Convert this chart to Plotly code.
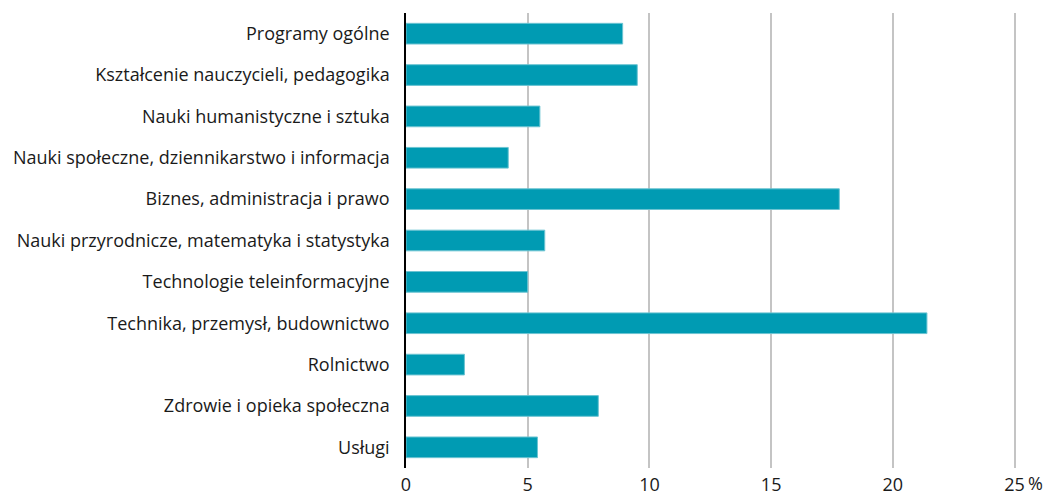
import plotly.graph_objects as go

categories = [
    "Programy ogólne",
    "Kształcenie nauczycieli, pedagogika",
    "Nauki humanistyczne i sztuka",
    "Nauki społeczne, dziennikarstwo i informacja",
    "Biznes, administracja i prawo",
    "Nauki przyrodnicze, matematyka i statystyka",
    "Technologie teleinformacyjne",
    "Technika, przemysł, budownictwo",
    "Rolnictwo",
    "Zdrowie i opieka społeczna",
    "Usługi",
]
values = [8.9, 9.5, 5.5, 4.2, 17.8, 5.7, 5.0, 21.4, 2.4, 7.9, 5.4]
tick_vals = [0, 5, 10, 15, 20, 25]
tick_text = ["0", "5", "10", "15", "20", "25"]
unit_label = "%"

FONT = "Open Sans"

fig = go.Figure(
    go.Bar(
        x=values,
        y=categories,
        orientation="h",
        marker=dict(color="#009bb3", line=dict(color="#6cc4d2", width=1)),
        width=0.5,
    )
)

fig.update_layout(
    width=1050,
    height=497,
    margin=dict(l=406, r=33, t=13, b=29),
    plot_bgcolor="white",
    paper_bgcolor="white",
    showlegend=False,
    font=dict(family=FONT, size=18, color="#1a1a1a"),
)
fig.update_xaxes(
    range=[0, 25.1],
    tickvals=tick_vals,
    ticktext=tick_text,
    showgrid=True,
    gridcolor="#c4c4c4",
    gridwidth=1.5,
    zeroline=False,
    showline=False,
    ticks="",
    tickfont=dict(size=18),
    ticklabelstandoff=4,
    automargin=False,
)
fig.update_yaxes(
    autorange="reversed",
    showgrid=False,
    showline=True,
    linecolor="black",
    linewidth=1.5,
    ticks="",
    ticklabelstandoff=11,
    automargin=False,
)
fig.add_annotation(
    x=25, xref="x", y=0, yref="paper",
    text=unit_label, showarrow=False,
    xanchor="left", yanchor="top", xshift=11, yshift=-1,
    font=dict(size=18, family=FONT, color="#1a1a1a"),
)

fig.write_html(
    "out.html",
    config={"displayModeBar": False},
    post_script="document.body.style.margin='0';document.body.style.overflow='hidden';",
)
